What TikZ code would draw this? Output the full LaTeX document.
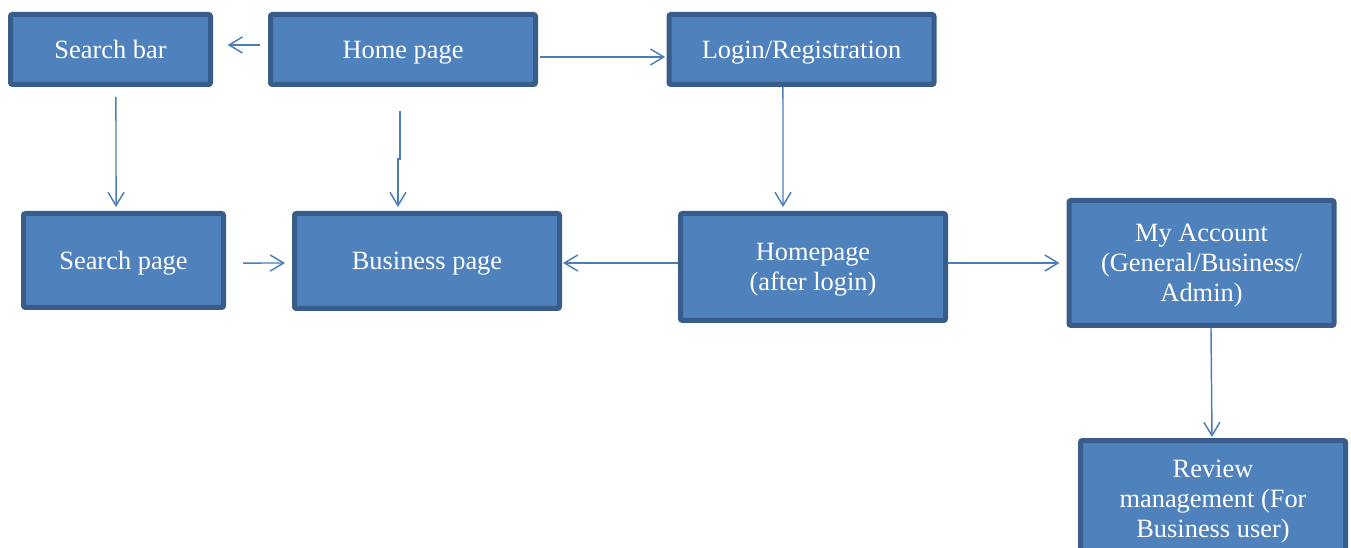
\documentclass[tikz,border=0pt]{standalone}
\usepackage{fontspec}
\setmainfont{Liberation Serif}
\usetikzlibrary{arrows.meta}
\definecolor{boxfill}{HTML}{4F81BD}
\definecolor{boxline}{HTML}{385D8A}
\definecolor{linkcol}{HTML}{4A7EBB}
\tikzset{
  page/.style={draw=boxline,fill=boxfill,line width=3.75pt,rounded corners=1.5pt,
    text=white,align=center,font=\fontsize{19.8}{22.5}\selectfont,
    text depth=-1pt,minimum width=198.75pt,inner sep=0pt},
  tallpage/.style={page,text depth=#1},
  tallpage/.default=-3pt,
  link/.style={draw=linkcol,line width=1.1pt,
    -{Straight Barb[length=10pt,width=12pt,line width=1.1pt]}}
}
\begin{document}
\begin{tikzpicture}[x=0.75pt,y=-0.75pt]
\useasboundingbox(0,0)rectangle(1351,548);
% top row
\node[page,minimum width=150pt,minimum height=52.5pt](sbar)at(110.5,49.5){Search bar};
\node[page,minimum height=52.5pt](home)at(403,49.5){Home page};
\node[page,minimum height=52.5pt](login)at(801.5,49.5){Login/Registration};
% middle row
\node[page,minimum width=150pt,minimum height=70.5pt](spage)at(123.5,260.5){Search page};
\node[page,minimum height=71.25pt](bpage)at(427,261){Business page};
\node[tallpage=-6.5pt,minimum height=80.25pt](hlogin)at(813,267){Homepage\\(after login)};
\node[tallpage=-5pt,minimum height=93.75pt](acct)at(1201.5,263){My Account\\(General/Business/\\Admin)};
% bottom
\node[tallpage=-2pt,minimum height=87.75pt](review)at(1213,499){Review\\management (For\\Business user)};
% links
\draw[link]([xshift=-6pt,yshift=3.4pt]home.west)--([xshift=11pt,yshift=3.4pt]sbar.east);
\draw[link]([xshift=1.5pt,yshift=-5.6pt]home.east)--([xshift=-1pt,yshift=-5.6pt]login.west);
\draw[link]([xshift=4.1pt,yshift=-7.5pt]sbar.south)--([xshift=-5.6pt,yshift=3pt]spage.north);
\draw[link]([xshift=-2.3pt,yshift=-18pt]home.south)--++(0,48)--++(-2,0)--([xshift=-21.8pt,yshift=3pt]bpage.north);
\draw[link]([xshift=-13.9pt]login.south)--([xshift=-22.5pt,yshift=3pt]hlogin.north);
\draw[link]([xshift=12.75pt,yshift=-1.9pt]spage.east)--([xshift=-5.25pt,yshift=-1.5pt]bpage.west);
\draw[link]([yshift=3pt]hlogin.west)--([xshift=0.75pt,yshift=-1.5pt]bpage.east);
\draw[link]([yshift=3pt]hlogin.east)--([xshift=-5.25pt]acct.west);
\draw[link]([xshift=7.1pt]acct.south)--([xshift=-0.75pt,yshift=0.75pt]review.north);
\end{tikzpicture}
\end{document}
